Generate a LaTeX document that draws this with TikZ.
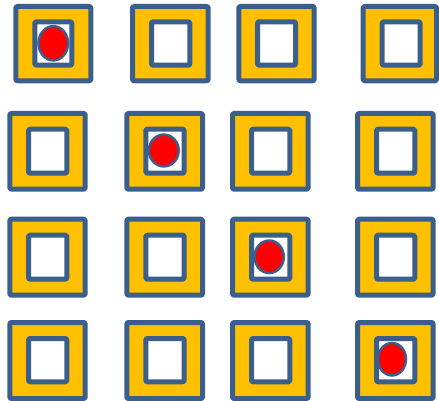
\documentclass[tikz,border=0pt]{standalone}
\definecolor{frameblue}{HTML}{3B5F8C}
\definecolor{gold}{HTML}{FFC000}
\definecolor{dotred}{HTML}{FF0000}
\tikzset{
  outerframe/.style={draw=frameblue,fill=gold,line width=5pt,rounded corners=1.2pt,line join=round},
  innerframe/.style={draw=frameblue,fill=white,line width=5pt,rounded corners=1.2pt,line join=round},
  reddot/.style={draw=frameblue,fill=dotred,line width=2.5pt}
}
\begin{document}
\begin{tikzpicture}[x=1pt,y=-1pt]
\useasboundingbox (0,0) rectangle (439,401);
% row 0
\foreach \ox/\oX/\ix/\iX in {15.8/90.8/34.8/71.8, 132.5/208.2/151.5/189.8, 238.8/314.2/257.5/295.5, 363.2/436.5/382.2/420.2}{
  \draw[outerframe] (\ox,6.5) rectangle (\oX,80.8);
  \draw[innerframe] (\ix,21.8) rectangle (\iX,65.2);
}
% rows 1-3
\foreach \oy/\oY/\iy/\iY in {113.5/189.2/129.2/173.2, 219.2/295.2/235.2/279.2, 322.5/398.5/338.5/381.8}{
  \foreach \ox/\oX/\ix/\iX in {9.8/85.2/28.5/66.8, 126.8/202.5/145.8/184.2, 232.5/308.2/251.5/289.8, 357.5/433.2/376.5/414.8}{
    \draw[outerframe] (\ox,\oy) rectangle (\oX,\oY);
    \draw[innerframe] (\ix,\iy) rectangle (\iX,\iY);
  }
}
% red dots on the diagonal
\draw[reddot] (53.3,43.3) ellipse [x radius=14.75, y radius=17.1];
\draw[reddot] (163.8,150.5) ellipse [x radius=14.9, y radius=15.9];
\draw[reddot] (269.2,256.8) ellipse [x radius=14.6, y radius=16.25];
\draw[reddot] (392,359.2) ellipse [x radius=14, y radius=16.25];
\end{tikzpicture}
\end{document}
